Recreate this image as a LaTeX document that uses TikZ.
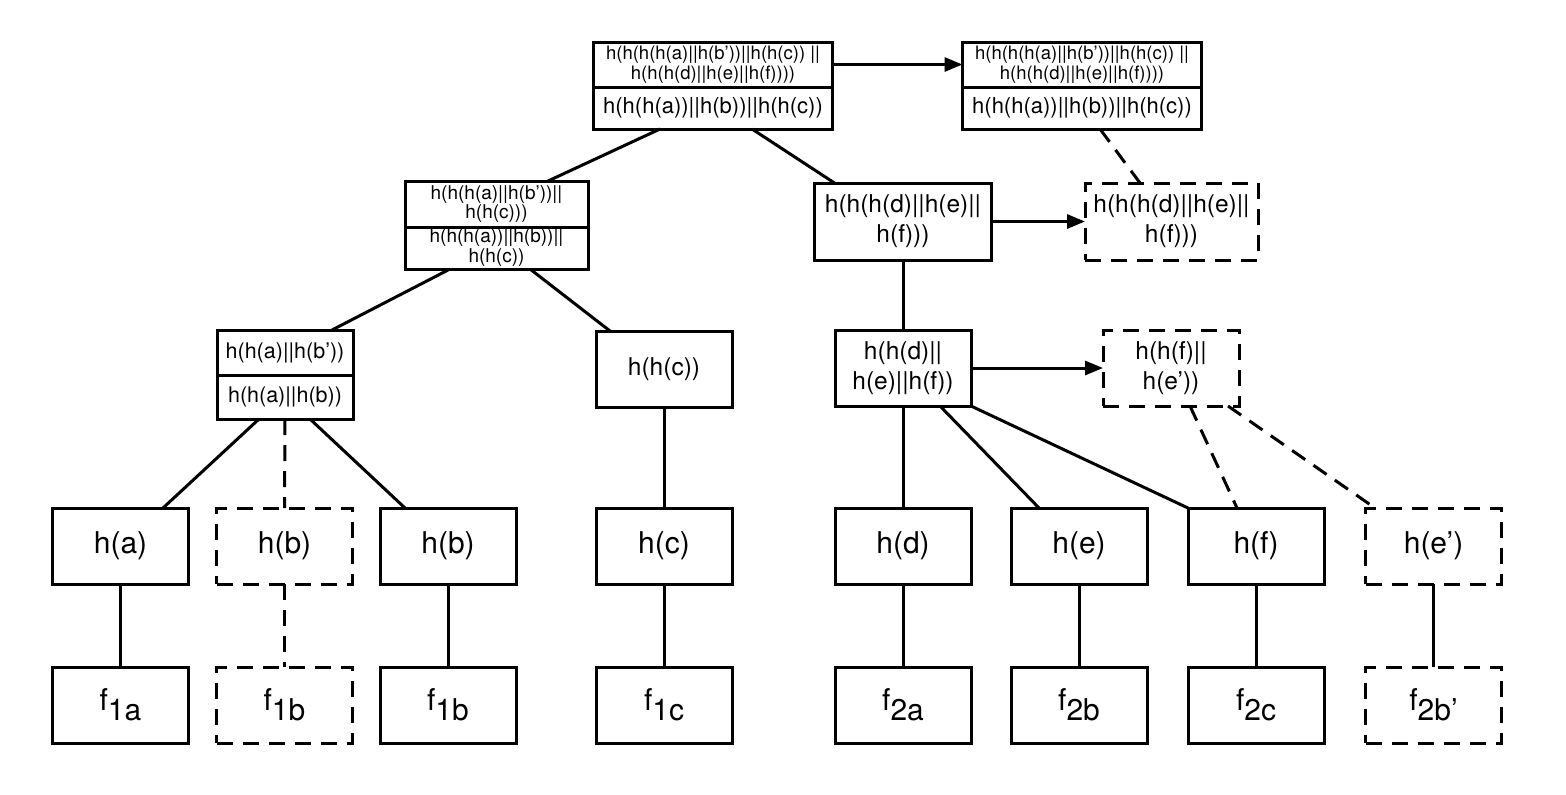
\documentclass[tikz,border=0pt]{standalone}
\usepackage{fontspec}
\setmainfont{TeX Gyre Heros}
\usepackage{tikz}
\usetikzlibrary{arrows.meta,positioning,calc}
\newcommand{\szbig}{\fontsize{15}{18}\selectfont}
\newcommand{\szmid}{\fontsize{12.25}{15}\selectfont}
\newcommand{\szlow}{\fontsize{10.75}{12}\selectfont}
\newcommand{\sztop}{\fontsize{9.25}{9.75}\selectfont}
\newcommand{\fsub}[1]{\raisebox{-0.32em}{#1}}
\tikzset{
  hashbox/.style={draw, line width=1.5pt, outer sep=0pt, inner sep=0pt, align=center},
  leafbox/.style={hashbox, minimum width=68pt, minimum height=38pt, font=\szbig},
  leafdash/.style={leafbox, dash pattern=on 8pt off 5pt},
  midbox/.style={hashbox, minimum width=68pt, minimum height=38pt, font=\szmid},
  middash/.style={midbox, dash pattern=on 8pt off 5pt},
  parttop/.style={hashbox, font=\sztop},
  partlow/.style={hashbox, font=\szlow},
  link/.style={line width=1.5pt},
  linkdash/.style={link, dash pattern=on 8pt off 5pt},
  cparrow/.style={-{Triangle[length=9pt,width=7pt]}, line width=1.5pt}
}
\begin{document}
\begin{tikzpicture}[x=0.5pt,y=-0.5pt, node distance=41.5pt]
\useasboundingbox (0,0) rectangle (1566,794);

% top row
\node[parttop, minimum width=119.5pt, minimum height=22.5pt] (root) at (713,64.5) {h(h(h(h(a)||h(b’))||h(h(c)) ||\\h(h(h(d)||h(e)||h(f))))};
\node[partlow, font=\fontsize{11}{12}\selectfont, minimum width=119.5pt, minimum height=21pt, below=0pt of root] (rootlow) {h(h(h(a))||h(b))||h(h(c))};
\node[parttop, minimum width=119.5pt, minimum height=22.5pt] (rootcp) at (1082,64.5) {h(h(h(h(a)||h(b’))||h(h(c)) ||\\h(h(h(d)||h(e)||h(f))))};
\node[partlow, font=\fontsize{11}{12}\selectfont, minimum width=119.5pt, minimum height=21pt, below=0pt of rootcp] (rootcplow) {h(h(h(a))||h(b))||h(h(c))};

% second row
\node[parttop, font=\fontsize{9.5}{9.5}\selectfont, minimum width=91.5pt, minimum height=23pt] (lft) at (496.5,204) {h(h(h(a)||h(b’))||\\h(h(c)))};
\node[parttop, font=\fontsize{9.5}{10}\selectfont, minimum width=91.5pt, minimum height=21pt, below=0pt of lft] (lftlow) {h(h(h(a))||h(b))||\\h(h(c))};
\node[midbox, minimum width=88.5pt, minimum height=38.5pt] (rgt) at (903,221.5) {h(h(h(d)||h(e)||\\h(f)))};
\node[middash, minimum width=86.5pt, minimum height=38.5pt] (rgtcp) at (1171.5,221.5) {h(h(h(d)||h(e)||\\h(f)))};

% third row
\node[partlow, minimum width=68pt, minimum height=22.5pt] (ab) at (285,352.5) {h(h(a)||h(b’))};
\node[partlow, minimum width=68pt, minimum height=22pt, below=0pt of ab] (ablow) {h(h(a)||h(b))};
\node[midbox] (hhc) at (664,369) {h(h(c))};
\node[midbox] (def) at (903,368) {h(h(d)||\\h(e)||h(f))};
\node[middash] (fe) at (1171,368) {h(h(f)||\\h(e’))};

% hash row
\node[leafbox] (ha) at (120.5,546) {h(a)};
\node[leafdash] (hbx) at (284.5,546) {h(b)};
\node[leafbox] (hb) at (448,546) {h(b)};
\node[leafbox] (hc) at (664,546) {h(c)};
\node[leafbox] (hd) at (903,546) {h(d)};
\node[leafbox] (he) at (1079,546) {h(e)};
\node[leafbox] (hf) at (1256,546) {h(f)};
\node[leafdash] (hep) at (1433.5,546) {h(e’)};

% file row
\node[leafbox, below=of ha] (f1a) {f\fsub{1a}};
\node[leafdash, below=of hbx] (f1bx) {f\fsub{1b}};
\node[leafbox, below=of hb] (f1b) {f\fsub{1b}};
\node[leafbox, below=of hc] (f1c) {f\fsub{1c}};
\node[leafbox, below=of hd] (f2a) {f\fsub{2a}};
\node[leafbox, below=of he] (f2b) {f\fsub{2b}};
\node[leafbox, below=of hf] (f2c) {f\fsub{2c}};
\node[leafdash, below=of hep] (f2bp) {f\fsub{2b’}};

% edges
\draw[link] ($(rootlow.south)+(-53,0)$) -- ($(lft.north)+(51.5,0)$);
\draw[link] ($(rootlow.south)+(39,0)$) -- ($(rgt.north)+(-68.5,0)$);
\draw[cparrow] (root.east) -- (rootcp.west);
\draw[linkdash] ($(rootcplow.south)+(18,0)$) -- ($(rgtcp.north)+(-31.5,0)$);
\draw[cparrow] (rgt.east) -- (rgtcp.west);
\draw[link] ($(lftlow.south)+(-46.5,0)$) -- ($(ab.north)+(47,0)$);
\draw[link] ($(lftlow.south)+(33.5,0)$) -- ($(hhc.north)+(-54,0)$);
\draw[link] (rgt) -- (def);
\draw[cparrow] (def.east) -- (fe.west);
\draw[link] ($(ablow.south)+(-26,0)$) -- ($(ha.north)+(42.5,0)$);
\draw[linkdash] (ablow.south) -- (hbx.north);
\draw[link] ($(ablow.south)+(25,0)$) -- ($(hb.north)+(-43,0)$);
\draw[link] (hhc) -- (hc);
\draw[link] (def) -- (hd);
\draw[link] ($(def.south)+(37,0)$) -- ($(he.north)+(-40,0)$);
\draw[link] (def.south east) -- (hf.north west);
\draw[linkdash] ($(fe.south)+(19,0)$) -- ($(hf.north)+(-19,0)$);
\draw[linkdash] ($(fe.south)+(57,0)$) -- ($(hep.north)+(-58.5,0)$);
\draw[link] (ha) -- (f1a);
\draw[linkdash] (hbx) -- (f1bx);
\draw[link] (hb) -- (f1b);
\draw[link] (hc) -- (f1c);
\draw[link] (hd) -- (f2a);
\draw[link] (he) -- (f2b);
\draw[link] (hf) -- (f2c);
\draw[link] (hep) -- (f2bp);
\end{tikzpicture}
\end{document}
